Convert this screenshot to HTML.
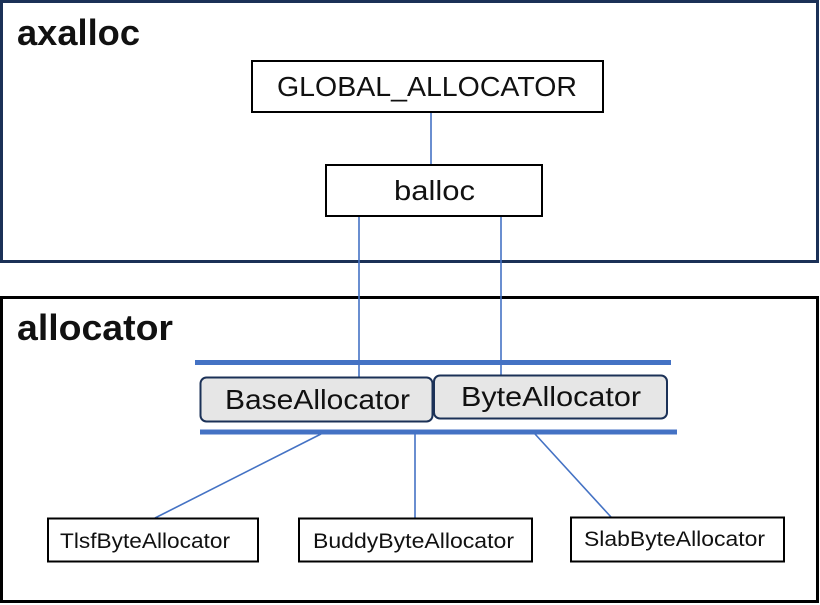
<!DOCTYPE html>
<html><head><meta charset="utf-8"><style>
html,body{margin:0;padding:0;background:#fff;}
svg{display:block;}
text{font-family:"Liberation Sans","Noto Sans CJK SC",sans-serif;fill:#111;}
</style></head><body>
<svg width="820" height="605" viewBox="0 0 820 605" xmlns="http://www.w3.org/2000/svg">
<rect x="1.5" y="1.5" width="816" height="260" fill="#fff" stroke="#1b3157" stroke-width="3"/>
<rect x="1.5" y="297.5" width="816" height="304" fill="#fff" stroke="#000" stroke-width="3"/>
<text x="17" y="45" font-size="36" font-weight="bold" textLength="123" lengthAdjust="spacingAndGlyphs">axalloc</text>
<text x="17" y="340" font-size="36" font-weight="bold" textLength="156" lengthAdjust="spacingAndGlyphs">allocator</text>
<g stroke="#4472c4" stroke-width="1.6" fill="none">
<line x1="431" y1="113" x2="431" y2="164"/>
<line x1="359" y1="217" x2="359" y2="377"/>
<line x1="501" y1="217" x2="501" y2="376"/>
<line x1="321" y1="434" x2="155" y2="518"/>
<line x1="415" y1="434" x2="415" y2="518"/>
<line x1="535" y1="434" x2="611" y2="517"/>
</g>
<rect x="195" y="360" width="476" height="5" fill="#4472c4"/>
<rect x="200" y="429.5" width="477" height="5" fill="#4472c4"/>
<rect x="252" y="61" width="351" height="51" fill="#fff" stroke="#000" stroke-width="2"/>
<text x="277" y="96" font-size="28" textLength="300" lengthAdjust="spacingAndGlyphs">GLOBAL_ALLOCATOR</text>
<rect x="326" y="165" width="216" height="51" fill="#fff" stroke="#000" stroke-width="2"/>
<text x="394" y="200" font-size="28" textLength="81" lengthAdjust="spacingAndGlyphs">balloc</text>
<rect x="200.5" y="377.5" width="232" height="44" rx="6" fill="#e6e6e6" stroke="#1b3157" stroke-width="2"/>
<text x="225" y="409" font-size="28" textLength="185" lengthAdjust="spacingAndGlyphs">BaseAllocator</text>
<rect x="434" y="375.5" width="233" height="43" rx="6" fill="#e6e6e6" stroke="#1b3157" stroke-width="2"/>
<text x="461" y="406" font-size="28" textLength="180" lengthAdjust="spacingAndGlyphs">ByteAllocator</text>
<rect x="48" y="518.5" width="210" height="43" fill="#fff" stroke="#000" stroke-width="2"/>
<text x="60" y="548" font-size="21" textLength="170" lengthAdjust="spacingAndGlyphs">TlsfByteAllocator</text>
<rect x="299" y="518.5" width="233" height="43" fill="#fff" stroke="#000" stroke-width="2"/>
<text x="313" y="548" font-size="21" textLength="201" lengthAdjust="spacingAndGlyphs">BuddyByteAllocator</text>
<rect x="571" y="517.5" width="213" height="44" fill="#fff" stroke="#000" stroke-width="2"/>
<text x="584" y="546" font-size="21" textLength="181" lengthAdjust="spacingAndGlyphs">SlabByteAllocator</text>
</svg>
</body></html>
